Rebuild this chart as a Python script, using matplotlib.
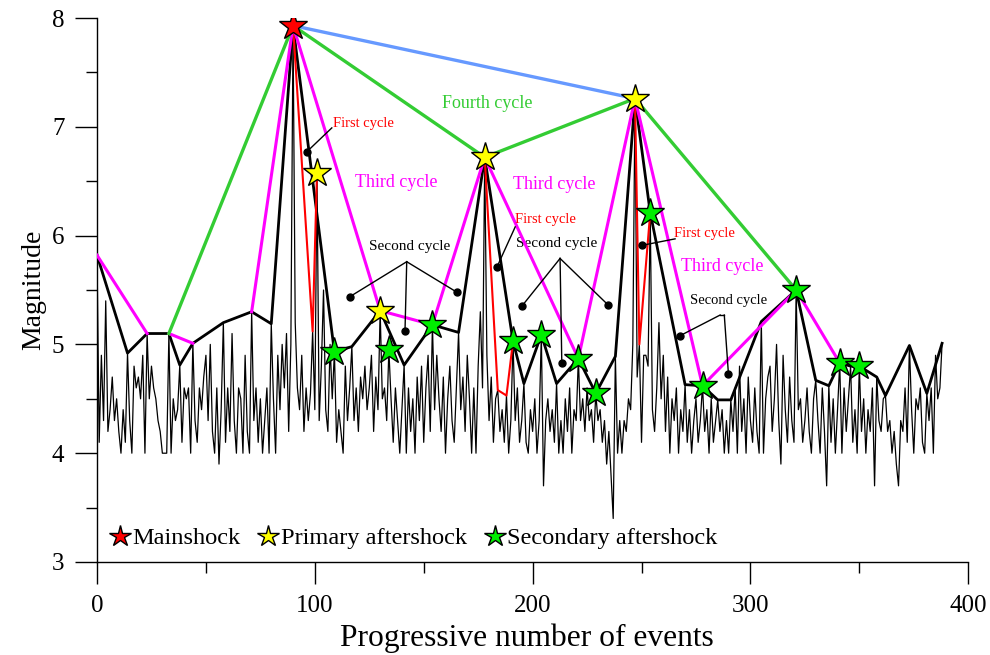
import matplotlib
matplotlib.use('Agg')
import matplotlib.pyplot as plt
from matplotlib.lines import Line2D

plt.rcParams['font.family'] = ['Liberation Serif', 'DejaVu Serif']

# Magnitude of each event (index = progressive number of event)
magnitudes = [
    5.82, 4.1, 4.9, 4.3, 5.4, 4.2, 4.4, 4.7, 4.3, 4.5,      # 0-9
    4.2, 4.0, 4.4, 4.1, 4.92, 4.3, 4.0, 4.8, 4.6, 4.7,      # 10-19
    4.5, 4.9, 4.0, 5.1, 4.5, 4.8, 4.6, 4.5, 4.3, 4.2,       # 20-29
    4.0, 4.0, 4.0, 5.1, 4.0, 4.5, 4.3, 4.4, 4.81, 4.1,      # 30-39
    4.6, 4.5, 4.6, 4.0, 5.01, 4.3, 4.1, 4.6, 4.4, 4.7,      # 40-49
    4.9, 4.3, 5.0, 4.2, 4.0, 4.6, 3.9, 4.4, 5.2, 4.1,       # 50-59
    4.6, 4.2, 5.1, 4.3, 4.0, 4.6, 4.5, 4.0, 4.9, 4.2,       # 60-69
    4.0, 5.3, 4.3, 4.6, 4.1, 4.5, 4.0, 4.3, 4.6, 4.0,       # 70-79
    5.19, 4.5, 4.0, 4.9, 4.4, 5.0, 4.6, 5.1, 4.2, 5.0,      # 80-89
    7.93, 5.2, 4.6, 4.4, 4.9, 4.2, 4.6, 4.3, 4.55, 5.12,    # 90-99
    4.4, 6.58, 4.3, 4.8, 5.5, 4.4, 4.2, 5.0, 4.5, 4.93,     # 100-109
    4.1, 4.4, 4.2, 4.0, 4.8, 4.3, 4.6, 4.98, 4.3, 4.6,      # 110-119
    4.2, 4.7, 4.5, 4.8, 4.4, 4.6, 4.9, 4.2, 4.7, 4.4,       # 120-129
    5.31, 4.5, 4.6, 4.3, 4.95, 4.5, 4.1, 4.6, 4.3, 4.0,     # 130-139
    4.4, 4.81, 4.0, 4.6, 4.2, 4.5, 4.0, 4.7, 4.3, 4.8,      # 140-149
    4.1, 4.6, 4.9, 4.2, 5.18, 4.4, 4.9, 4.5, 4.2, 4.7,      # 150-159
    4.0, 4.5, 4.8, 4.3, 4.1, 4.6, 5.11, 4.4, 4.7, 4.2,      # 160-169
    4.9, 4.5, 4.0, 4.6, 4.0, 4.8, 5.3, 4.6, 6.72, 4.9,      # 170-179
    4.3, 4.7, 4.1, 4.5, 4.58, 4.2, 4.4, 4.1, 4.53, 4.0,     # 180-189
    4.3, 5.03, 4.3, 4.6, 4.1, 4.3, 4.64, 4.1, 4.0, 4.4,     # 190-199
    4.2, 4.5, 4.0, 4.3, 5.09, 3.7, 4.3, 4.5, 4.2, 4.4,      # 200-209
    4.1, 4.64, 4.0, 4.3, 4.0, 4.5, 4.2, 4.6, 4.0, 4.4,      # 210-219
    4.3, 4.87, 4.3, 4.5, 4.2, 4.6, 4.3, 4.4, 4.1, 4.55,     # 220-229
    4.3, 4.4, 4.1, 4.3, 3.9, 4.2, 3.8, 3.4, 4.89, 4.0,      # 230-239
    4.3, 4.0, 4.3, 4.2, 4.5, 4.4, 5.0, 7.26, 4.7, 5.0,      # 240-249
    4.1, 4.9, 4.9, 4.8, 6.21, 4.4, 4.2, 4.6, 5.2, 4.5,      # 250-259
    4.9, 4.2, 4.7, 4.0, 4.5, 4.3, 4.6, 4.0, 4.4, 4.2,       # 260-269
    4.63, 4.1, 4.4, 4.0, 4.3, 4.5, 4.1, 4.3, 4.62, 4.2,     # 270-279
    4.4, 4.0, 4.5, 4.1, 4.3, 4.49, 4.2, 4.4, 4.0, 4.3,      # 280-289
    4.0, 4.49, 4.2, 4.6, 4.0, 4.8, 4.2, 4.5, 4.0, 4.7,      # 290-299
    4.3, 4.1, 4.6, 4.2, 4.0, 5.21, 4.0, 4.5, 4.7, 4.8,      # 300-309
    4.2, 4.5, 5.0, 4.3, 3.9, 4.9, 4.4, 4.1, 4.7, 4.3,       # 310-319
    4.1, 5.5, 4.4, 4.5, 4.1, 4.3, 4.6, 4.2, 4.0, 4.5,       # 320-329
    4.67, 4.3, 4.0, 4.6, 4.2, 3.7, 4.62, 4.1, 4.5, 4.0,     # 330-339
    4.4, 4.83, 4.0, 4.6, 4.2, 4.5, 4.8, 4.1, 4.4, 4.0,      # 340-349
    4.8, 4.2, 4.5, 4.0, 4.4, 4.2, 4.6, 3.7, 4.7, 4.3,       # 350-359
    4.2, 4.5, 4.53, 4.2, 4.3, 4.0, 4.2, 3.9, 3.7, 4.3,      # 360-369
    4.2, 4.6, 4.1, 4.99, 4.4, 4.0, 4.5, 4.4, 4.6, 4.1,      # 370-379
    4.0, 4.55, 4.3, 4.6, 4.0, 4.9, 4.5, 4.6, 5.01,          # 380-388
]
event_number = list(range(len(magnitudes)))

# Cycles (indices of events joined by each cycle line)
first_cycle = [[90, 99, 101], [178, 184, 188, 191], [247, 249, 254]]
second_cycle = [0, 14, 23, 33, 38, 44, 58, 71, 80, 90, 109, 117, 130, 141, 154,
                166, 178, 191, 196, 204, 211, 221, 229, 238, 247, 254, 270, 278,
                285, 291, 305, 321, 330, 336, 341, 346, 350, 358, 362, 373, 381, 388]
third_cycle = [[0, 23], [33, 44], [71, 90, 130, 154, 178, 221, 247, 278, 321, 341]]
fourth_cycle = [33, 90, 178, 247, 321]
top_link = [90, 247]

mainshock = [90]
primary_aftershocks = [101, 130, 178, 247]
secondary_aftershocks = [109, 134, 154, 191, 204, 221, 229, 254, 278, 321, 341, 350]


def xy(idx):
    return [event_number[i] for i in idx], [magnitudes[i] for i in idx]


fig = plt.figure(figsize=(9.9, 6.55), dpi=100)
ax = fig.add_axes([0.098, 0.142, 0.880, 0.8305])

ax.plot(event_number, magnitudes, color='black', lw=0.9, zorder=2)
ax.plot(*xy(second_cycle), color='black', lw=2.0, zorder=3)
for seg in first_cycle:
    ax.plot(*xy(seg), color='#ff0000', lw=1.5, zorder=4)
for seg in third_cycle:
    ax.plot(*xy(seg), color='#ff00ff', lw=2.2, zorder=4)
ax.plot(*xy(fourth_cycle), color='#33cc33', lw=2.4, zorder=4)
ax.plot(*xy(top_link), color='#6699ff', lw=2.4, zorder=4)

star_kw = dict(marker='*', ls='none', markeredgecolor='black', markeredgewidth=1.0, zorder=6)
ax.plot(*xy(mainshock), markerfacecolor='#ff0000', markersize=21, **star_kw)
ax.plot(*xy(primary_aftershocks), markerfacecolor='#ffff00', markersize=21, **star_kw)
ax.plot(*xy(secondary_aftershocks), markerfacecolor='#00ee00', markersize=21, **star_kw)

# annotations
def leader(p0, p1, dot=True):
    ax.plot([p0[0], p1[0]], [p0[1], p1[1]], color='black', lw=1.0, zorder=5)
    if dot:
        ax.plot(p0[0], p0[1], 'o', color='black', ms=5, zorder=5)

def bracket(apex, dots):
    for d in dots:
        leader(d, apex)

# First cycle labels
for dot, end, txt in [((96.3, 6.77), (107.8, 6.99), (122.2, 7.03)),
                      ((183.6, 5.71), (192.0, 6.08), (205.7, 6.15)),
                      ((250.1, 5.91), (265.4, 5.97), (278.8, 6.02))]:
    leader(dot, end)
    ax.text(txt[0], txt[1], 'First cycle', color='#ff0000', fontsize=10.5,
            ha='center', va='center', zorder=7)

# Second cycle labels
bracket((142.2, 5.76), [(116.2, 5.44), (141.4, 5.12), (165.2, 5.48)])
ax.text(143.7, 5.90, 'Second cycle', color='black', fontsize=11, ha='center', va='center')
bracket((212.6, 5.79), [(195.0, 5.35), (213.4, 4.83), (234.8, 5.36)])
ax.text(211.1, 5.93, 'Second cycle', color='black', fontsize=11, ha='center', va='center')
leader((267.7, 5.08), (286.1, 5.27))
ax.plot([286.1, 288.0], [5.27, 5.27], color='black', lw=1.0)
leader((289.9, 4.73), (288.0, 5.27))
ax.text(289.8, 5.40, 'Second cycle', color='black', fontsize=10.5, ha='center', va='center')

# Third / fourth cycle labels
for x, y in [(137.3, 6.49), (209.9, 6.47), (287.2, 5.72)]:
    ax.text(x, y, 'Third cycle', color='#ff00ff', fontsize=13, ha='center', va='center')
ax.text(179.1, 7.21, 'Fourth cycle', color='#33cc33', fontsize=13, ha='center', va='center')

ax.set_xlim(0, 400)
ax.set_ylim(3, 8)
ax.set_xticks([0, 100, 200, 300, 400])
ax.set_xticks([50, 150, 250, 350], minor=True)
ax.set_yticks([3, 4, 5, 6, 7, 8])
ax.set_yticks([3.5, 4.5, 5.5, 6.5, 7.5], minor=True)
ax.tick_params(which='major', direction='out', length=15.5, width=1.0, labelsize=18, pad=8)
ax.tick_params(which='minor', direction='out', length=8, width=1.0)
for s in ['top', 'right']:
    ax.spines[s].set_visible(False)
for s in ['left', 'bottom']:
    ax.spines[s].set_linewidth(1.0)

ax.set_xlabel('Progressive number of events', fontsize=22.7, labelpad=9)
ax.xaxis.set_label_coords(0.493, -0.113)
ax.set_ylabel('Magnitude', fontsize=20, labelpad=4)

handles = [
    Line2D([], [], marker='*', ls='none', markerfacecolor='#ff0000', markeredgecolor='black', markersize=16),
    Line2D([], [], marker='*', ls='none', markerfacecolor='#ffff00', markeredgecolor='black', markersize=16),
    Line2D([], [], marker='*', ls='none', markerfacecolor='#00ee00', markeredgecolor='black', markersize=16),
]
ax.legend(handles, ['Mainshock', 'Primary aftershock', 'Secondary aftershock'],
          loc='center left', bbox_to_anchor=(-0.002, 0.044), ncol=3, frameon=False,
          fontsize=17.6, handlelength=0.8, handletextpad=0.1, columnspacing=0.75,
          borderpad=0.1)

fig.savefig('out.png', dpi=100)
